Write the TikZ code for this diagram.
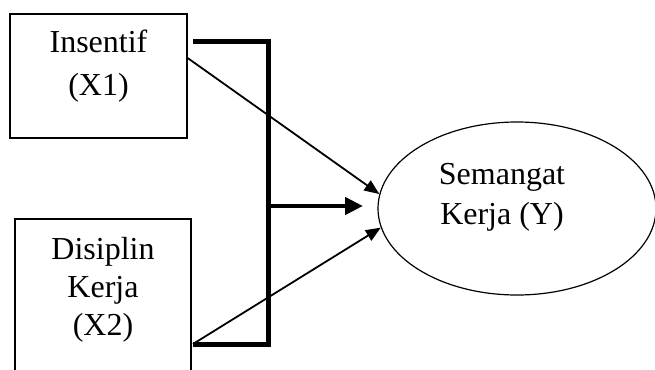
\documentclass[tikz,border=0pt]{standalone}
\usepackage{fontspec}
\setmainfont{Liberation Serif}
\usetikzlibrary{shapes.geometric, arrows.meta, positioning}
\tikzstyle{kotak} = [draw, line width=1.2pt, align=center, inner sep=0pt]
\tikzstyle{panah} = [line width=1.8pt,-{Triangle[length=15pt,width=12pt]}]
\tikzstyle{garis} = [line width=5pt]

\begin{document}
\begin{tikzpicture}[x=1pt,y=-1pt]
  \useasboundingbox (0,0) rectangle (655,369);
  \clip (0,0) rectangle (655,369);

  % Variabel bebas
  \node[kotak, minimum width=177pt, minimum height=124pt, text depth=27pt,
        font=\fontsize{32}{43}\selectfont] (x1) at (98.5,76) {Insentif\\(X1)};
  \node[kotak, minimum width=176pt, minimum height=166pt, text depth=31pt,
        font=\fontsize{32}{38}\selectfont] (x2) at (103,302) {Disiplin\\Kerja\\(X2)};

  % Variabel terikat
  \node[ellipse, draw, line width=1.2pt, minimum width=278pt, minimum height=173pt,
        align=center, text depth=29pt, font=\fontsize{32}{40}\selectfont]
        (y) at (517,208.5) {Semangat\hspace*{30pt}\\Kerja (Y)\hspace*{30pt}};

  % Garis simultan
  \coordinate (bt) at (193,42);
  \coordinate (bb) at (193,344);
  \coordinate (bm) at (268,206);
  \coordinate (ujung) at (363,206);
  \draw[garis] (bt) -| (bm) |- (bb);
  \draw[line width=4.5pt,-{Triangle[length=18pt,width=17pt]}] (bm) -- (ujung);

  % Pengaruh parsial
  \draw[panah] ([yshift=18pt]x1.east) -- (y.174);
  \draw[panah] (bb) -- (y.188);
\end{tikzpicture}
\end{document}
